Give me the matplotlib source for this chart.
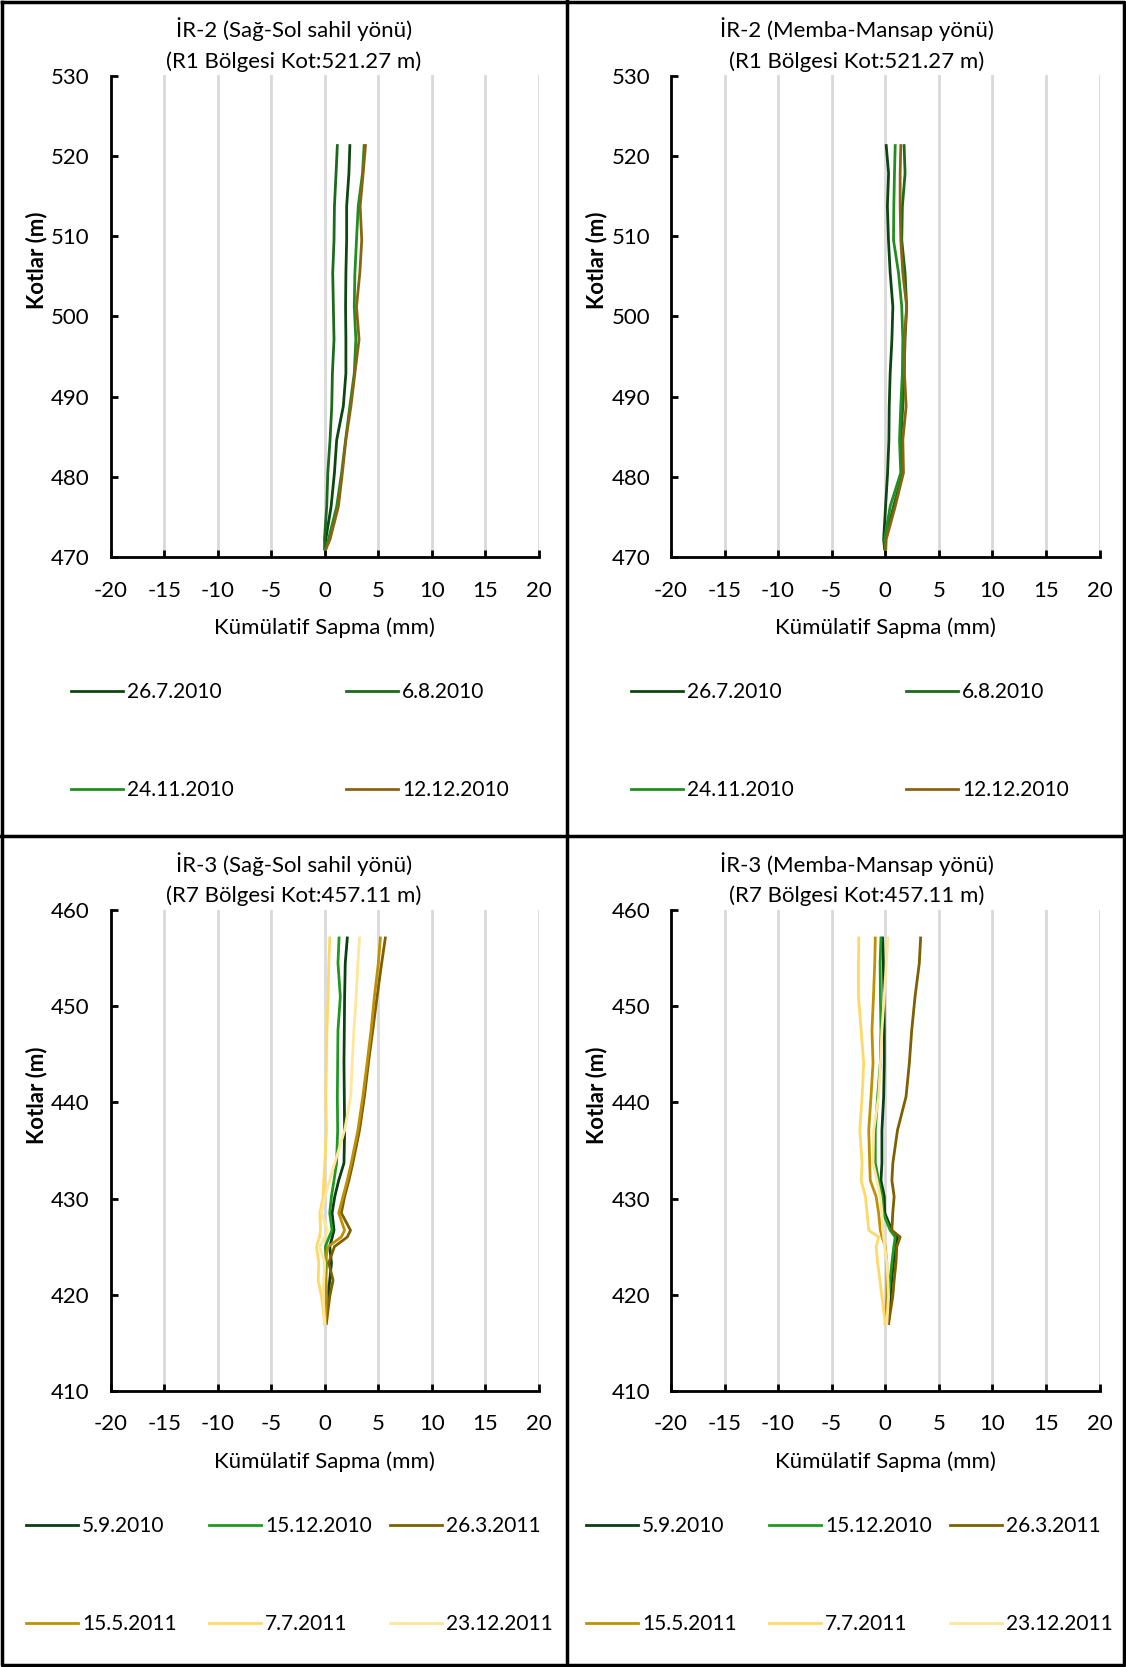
import numpy as np
import matplotlib
matplotlib.use('Agg')
import matplotlib.pyplot as plt
from matplotlib.lines import Line2D
from matplotlib.legend import Legend

plt.rcParams['font.family'] = ['Lato', 'DejaVu Sans']
plt.rcParams['axes.unicode_minus'] = False

# --- İR-2 (R1) profiles ---
elev_r1 = [521.27, 517.8, 513.7, 509.5, 505.4, 501.2, 497.1, 492.9, 488.8, 484.6, 480.5, 476.3, 472.2, 471.0]
labels_r1 = ['26.7.2010', '6.8.2010', '24.11.2010', '12.12.2010']
colors_r1 = ['#0d470f', '#1b6a1b', '#1f8f1f', '#8a6410']

ss_r1 = [
    [2.34, 2.25, 2.04, 2.04, 1.97, 1.94, 1.97, 1.97, 1.73, 1.11, 0.90, 0.59, 0.09, 0.0],
    [1.17, 1.05, 0.90, 0.86, 0.74, 0.80, 0.86, 0.71, 0.65, 0.49, 0.28, 0.18, -0.03, 0.0],
    [3.67, 3.52, 3.12, 2.96, 2.81, 2.75, 2.90, 2.75, 2.34, 1.94, 1.57, 1.11, 0.34, 0.1],
    [3.80, 3.58, 3.30, 3.45, 3.27, 2.96, 3.20, 2.81, 2.44, 1.97, 1.64, 1.27, 0.49, 0.1],
]
mm_r1 = [
    [0.09, 0.31, 0.20, 0.30, 0.46, 0.71, 0.62, 0.46, 0.37, 0.34, 0.22, 0.03, -0.15, -0.06],
    [1.76, 1.85, 1.60, 1.54, 1.85, 2.00, 1.85, 1.76, 1.64, 1.45, 1.64, 0.77, 0.0, 0.0],
    [0.93, 0.86, 0.80, 0.77, 1.24, 1.54, 1.64, 1.60, 1.45, 1.33, 1.45, 0.46, -0.06, 0.0],
    [1.45, 1.39, 1.39, 1.45, 1.64, 2.00, 1.79, 1.79, 1.95, 1.64, 1.70, 0.93, 0.09, 0.05],
]

# --- İR-3 (R7) profiles ---
elev_r7 = [457.11, 454.5, 451.0, 447.5, 444.1, 440.6, 437.1, 433.7, 431.9, 430.2, 428.5,
           426.7, 426.0, 425.0, 423.3, 421.5, 419.8, 417.0]
labels_r7 = ['5.9.2010', '15.12.2010', '26.3.2011', '15.5.2011', '7.7.2011', '23.12.2011']
colors_r7 = ['#0b4010', '#1f9a1f', '#7f6000', '#bf9000', '#ffd966', '#ffe699']

ss_r7 = [
    [2.10, 1.91, 1.85, 1.82, 1.79, 1.82, 1.85, 1.79, 1.30, 0.93, 0.68, 0.86, 0.70, 0.46, 0.62, 0.46, 0.31, 0.06],
    [1.33, 1.23, 1.45, 1.23, 1.20, 1.17, 1.20, 1.10, 0.86, 0.62, 0.46, 0.68, 0.40, 0.05, 0.15, 0.10, 0.15, 0.0],
    [5.65, 5.31, 4.88, 4.48, 4.07, 3.70, 3.24, 2.62, 2.25, 1.85, 1.54, 2.40, 2.10, 0.90, 0.37, 0.77, 0.46, 0.15],
    [5.19, 5.00, 4.63, 4.32, 3.95, 3.55, 3.09, 2.47, 2.10, 1.70, 1.30, 1.85, 1.54, 0.31, 0.0, 0.10, 0.15, 0.06],
    [0.46, 0.37, 0.31, 0.20, 0.15, 0.10, 0.15, 0.0, -0.10, -0.15, -0.46, -0.40, -0.50, -0.77, -0.56, -0.62, -0.31, 0.0],
    [3.24, 3.09, 2.93, 2.72, 2.56, 2.41, 1.85, 0.93, 0.45, 0.0, -0.31, 0.25, 0.0, -0.46, 0.0, -0.10, -0.15, 0.0],
]
mm_r7 = [
    [-0.25, -0.18, -0.12, -0.09, -0.09, -0.15, -0.31, -0.31, -0.40, -0.09, -0.05, 0.62, 1.14, 1.00, 0.77, 0.60, 0.46, 0.31],
    [-0.40, -0.48, -0.45, -0.40, -0.46, -0.71, -0.93, -0.93, -0.62, -0.31, -0.20, 0.46, 0.93, 0.80, 0.62, 0.45, 0.31, 0.15],
    [3.30, 3.18, 2.78, 2.47, 2.25, 1.94, 1.14, 0.71, 0.62, 0.83, 0.70, 0.62, 1.39, 1.08, 1.00, 0.83, 0.70, 0.31],
    [-0.93, -0.98, -1.10, -1.24, -1.14, -1.33, -1.54, -1.45, -1.40, -0.85, -0.62, -0.46, -0.30, 0.0, 0.15, 0.15, 0.15, 0.0],
    [-2.47, -2.50, -2.50, -2.25, -2.01, -2.16, -2.38, -2.16, -2.25, -1.85, -1.70, -1.54, -0.62, -0.85, -0.71, -0.50, -0.31, 0.0],
    [0.25, 0.10, -0.10, -0.31, -0.45, -0.62, -1.08, -1.14, -0.77, -0.46, -0.30, -0.22, -0.15, -0.05, 0.15, 0.25, 0.31, 0.15],
]

W, H = 1126, 1667
fig = plt.figure(figsize=(W / 100, H / 100), dpi=100)
FS = 16
LFS = 15


def make_ax(left, top, right, bottom, ylim, yticks):
    ax = fig.add_axes([left / W, 1 - bottom / H, (right - left) / W, (bottom - top) / H])
    ax.set_xlim(-20, 20)
    ax.set_ylim(*ylim)
    ax.set_xticks(range(-20, 21, 5))
    ax.set_yticks(yticks)
    ax.xaxis.grid(True, color='#d9d9d9', lw=2)
    ax.set_axisbelow(True)
    for s in ['top', 'right']:
        ax.spines[s].set_visible(False)
    for s in ['left', 'bottom']:
        ax.spines[s].set_linewidth(2)
    ax.tick_params(direction='in', length=5, width=2, labelsize=FS, colors='black')
    ax.tick_params(axis='x', pad=17)
    ax.tick_params(axis='y', pad=15)
    return ax


panels = [
    (110.6, 75.5, 539, 557, (470, 530), range(470, 531, 10), elev_r1, ss_r1, labels_r1, colors_r1,
     'İR-2 (Sağ-Sol sahil yönü)', '(R1 Bölgesi Kot:521.27 m)', 294),
    (671, 75.5, 1099.5, 557, (470, 530), range(470, 531, 10), elev_r1, mm_r1, labels_r1, colors_r1,
     'İR-2 (Memba-Mansap yönü)', '(R1 Bölgesi Kot:521.27 m)', 857),
    (110.6, 910.2, 539, 1390.8, (410, 460), range(410, 461, 10), elev_r7, ss_r7, labels_r7, colors_r7,
     'İR-3 (Sağ-Sol sahil yönü)', '(R7 Bölgesi Kot:457.11 m)', 294),
    (671, 910.2, 1099.5, 1390.8, (410, 460), range(410, 461, 10), elev_r7, mm_r7, labels_r7, colors_r7,
     'İR-3 (Memba-Mansap yönü)', '(R7 Bölgesi Kot:457.11 m)', 857),
]

for left, top, right, bottom, ylim, yticks, elev, series, labels, colors, t1, t2, tx in panels:
    ax = make_ax(left, top, right, bottom, ylim, yticks)
    lines = []
    for vals, lab, c in zip(series, labels, colors):
        ln, = ax.plot(vals, elev, color=c, lw=2.0, label=lab, solid_joinstyle='round')
        lines.append(ln)
    ax.set_xlabel('Kümülatif Sapma (mm)', fontsize=FS, labelpad=12)
    fig.text((left - 74) / W, 1 - (top + 185) / H, 'Kotlar (m)', rotation=90, fontsize=FS,
             fontweight='bold', ha='center', va='center')
    fig.text(tx / W, 1 - (top - 46) / H, t1, fontsize=FS, ha='center', va='center')
    fig.text(tx / W, 1 - (top - 14) / H, t2, fontsize=FS, ha='center', va='center')

    # Excel-style legend: equal-width columns, filled row by row
    if len(labels) == 4:
        col_x = [-40, 235]
    else:
        col_x = [-85, 98, 279]
    ncol = len(col_x)
    for j, dx in enumerate(col_x):
        idx = list(range(j, len(labels), ncol))
        leg = Legend(ax, [lines[i] for i in idx], [labels[i] for i in idx], loc='upper left',
                     bbox_to_anchor=((left + dx) / W, 1 - (bottom + 125) / H),
                     bbox_transform=fig.transFigure, frameon=False, fontsize=LFS,
                     handlelength=2.5, handletextpad=0.2, labelspacing=3.75,
                     borderaxespad=0, borderpad=0)
        ax.add_artist(leg)

# frame and dividers
fig.add_artist(Line2D([0.0015, 0.9985, 0.9985, 0.0015, 0.0015], [0.999, 0.999, 0.001, 0.001, 0.999],
                      transform=fig.transFigure, color='black', lw=2.5))
fig.add_artist(Line2D([567 / W, 567 / W], [0, 1], transform=fig.transFigure, color='black', lw=2.5))
fig.add_artist(Line2D([0, 1], [1 - 836 / H, 1 - 836 / H], transform=fig.transFigure, color='black', lw=2.5))

fig.savefig('out.png', dpi=100, facecolor='white')
